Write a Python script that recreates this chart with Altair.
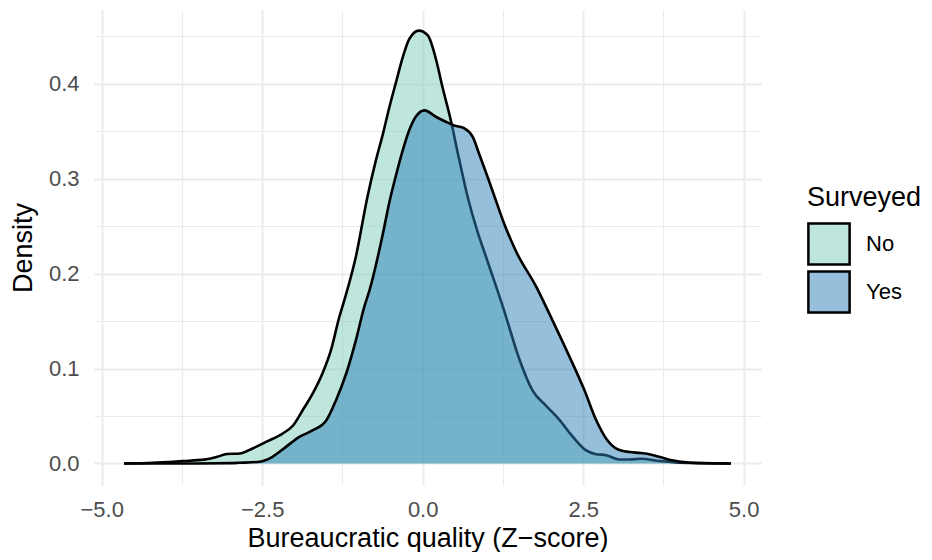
import altair as alt
import pandas as pd

# Density curve (x = Z-score, y = density)
no_x = [-4.65, -4.2, -3.75, -3.4, -3.2, -3.05, -2.85, -2.65, -2.44, -2.18, -2.02, -1.87,
        -1.71, -1.56, -1.43, -1.30, -1.22, -1.04, -0.86, -0.73, -0.62, -0.52, -0.41, -0.31,
        -0.21, -0.06, 0.08, 0.21, 0.31, 0.44, 0.55, 0.70, 0.85, 0.99, 1.25, 1.51, 1.71,
        1.92, 2.13, 2.34, 2.54, 2.70, 2.86, 3.06, 3.22, 3.40, 3.69, 3.95, 4.3, 4.8]
no_y = [0.000, 0.0008, 0.0025, 0.004, 0.007, 0.010, 0.0105, 0.0158, 0.0227, 0.0316, 0.040, 0.056,
        0.074, 0.095, 0.119, 0.154, 0.172, 0.218, 0.281, 0.319, 0.347, 0.375, 0.403, 0.428,
        0.447, 0.456, 0.451, 0.425, 0.396, 0.361, 0.326, 0.281, 0.245, 0.217, 0.165, 0.109, 0.077,
        0.061, 0.046, 0.028, 0.014, 0.0098, 0.0087, 0.0042, 0.0042, 0.005, 0.0025, 0.001, 0.0003, 0.0]

yes_x = [-4.65, -3.5, -3.0, -2.85, -2.54, -2.34, -2.13, -1.92, -1.71, -1.50, -1.35, -1.19,
         -1.04, -0.91, -0.83, -0.62, -0.52, -0.41, -0.31, -0.21, -0.10, 0.03, 0.21, 0.36,
         0.49, 0.65, 0.78, 0.88, 1.01, 1.12, 1.25, 1.45, 1.77, 2.02, 2.29, 2.52, 2.70, 2.86,
         3.01, 3.22, 3.40, 3.58, 3.84, 4.15, 4.5, 4.8]
yes_y = [0.0, 0.0, 0.0003, 0.0007, 0.0018, 0.007, 0.0175, 0.028, 0.035, 0.0456, 0.0667, 0.095,
         0.130, 0.165, 0.182, 0.242, 0.275, 0.305, 0.330, 0.351, 0.366, 0.372, 0.365, 0.360,
         0.356, 0.353, 0.344, 0.326, 0.302, 0.281, 0.256, 0.224, 0.186, 0.151, 0.112, 0.077, 0.046, 0.026,
         0.016, 0.012, 0.011, 0.009, 0.004, 0.001, 0.0002, 0.0]

groups = ["No", "Yes"]
fill_colors = ["#7fcdbb", "#2c7fb8"]          # drawn at 50% opacity
legend_colors = ["#bfe6dd", "#96bfdc"]        # same colours at 50% over white, for the key

x_ticks = [-5, -3.75, -2.5, -1.25, 0, 1.25, 2.5, 3.75, 5]
y_ticks = [0, 0.05, 0.1, 0.15, 0.2, 0.25, 0.3, 0.35, 0.4, 0.45]

df = pd.concat([
    pd.DataFrame({"x": no_x, "y": no_y, "Surveyed": "No"}),
    pd.DataFrame({"x": yes_x, "y": yes_y, "Surveyed": "Yes"}),
])

FONT = "Liberation Sans"

x_enc = alt.X(
    "x:Q",
    scale=alt.Scale(domain=[-5.12, 5.27], nice=False, zero=False),
    axis=alt.Axis(
        title="Bureaucratic quality (Z\u2212score)",
        values=x_ticks,
        labelExpr="datum.value % 2.5 === 0 ? replace(format(datum.value, '.1f'), '-', '\u2212') : ''",
        gridWidth={"condition": {"test": "datum.value % 2.5 !== 0", "value": 1.1}, "value": 2},
        labelPadding=14,
        titlePadding=5,
    ),
)
y_enc = alt.Y(
    "y:Q",
    stack=None,
    scale=alt.Scale(domain=[-0.0227, 0.4777], nice=False, zero=False),
    axis=alt.Axis(
        title="Density",
        values=y_ticks,
        labelExpr="round(datum.value * 100) % 10 === 0 ? format(datum.value, '.1f') : ''",
        gridWidth={"condition": {"test": "round(datum.value * 100) % 10 !== 0", "value": 1.1}, "value": 2},
        labelPadding=15,
        titlePadding=11,
    ),
)
key_enc = alt.Color(
    "Surveyed:N",
    scale=alt.Scale(domain=groups, range=legend_colors),
    legend=alt.Legend(
        title="Surveyed",
        orient="none",
        legendX=713,
        legendY=175,
        symbolType="square",
        symbolSize=1700,
        symbolStrokeColor="black",
        symbolStrokeWidth=2.5,
        symbolOpacity=1,
        labelOffset=15,
        rowPadding=-4,
        titlePadding=10,
    ),
)

base = alt.Chart(df)
layers = []
for g, c in zip(groups, fill_colors):
    sub = base.transform_filter(alt.datum.Surveyed == g)
    layers.append(
        sub.mark_area(interpolate="monotone", fill=c, fillOpacity=0.5).encode(x=x_enc, y=y_enc)
    )
    layers.append(
        sub.mark_line(interpolate="monotone", color="black", strokeWidth=2.6).encode(x=x_enc, y=y_enc)
    )
# invisible layer that only carries the legend keys
layers.append(
    base.mark_square(opacity=0, filled=True).encode(x=x_enc, y=y_enc, color=key_enc)
)

chart = alt.layer(*layers).properties(
    width=667,
    height=475,
    autosize=alt.AutoSizeParams(type="none"),
    padding={"left": 86, "top": 2, "right": 163, "bottom": 67},
).configure_view(stroke=None).configure_axis(
    domain=False,
    ticks=False,
    gridColor="#EBEBEB",
    labelFont=FONT,
    labelFontSize=22,
    labelColor="#4D4D4D",
    titleFont=FONT,
    titleFontSize=27,
    titleFontWeight="normal",
    titleColor="black",
).configure_legend(
    titleFont=FONT,
    titleFontSize=27,
    titleFontWeight="normal",
    titleColor="black",
    labelFont=FONT,
    labelFontSize=22,
    labelColor="black",
)

chart.save("out.html", embed_options={"renderer": "svg", "actions": False})
